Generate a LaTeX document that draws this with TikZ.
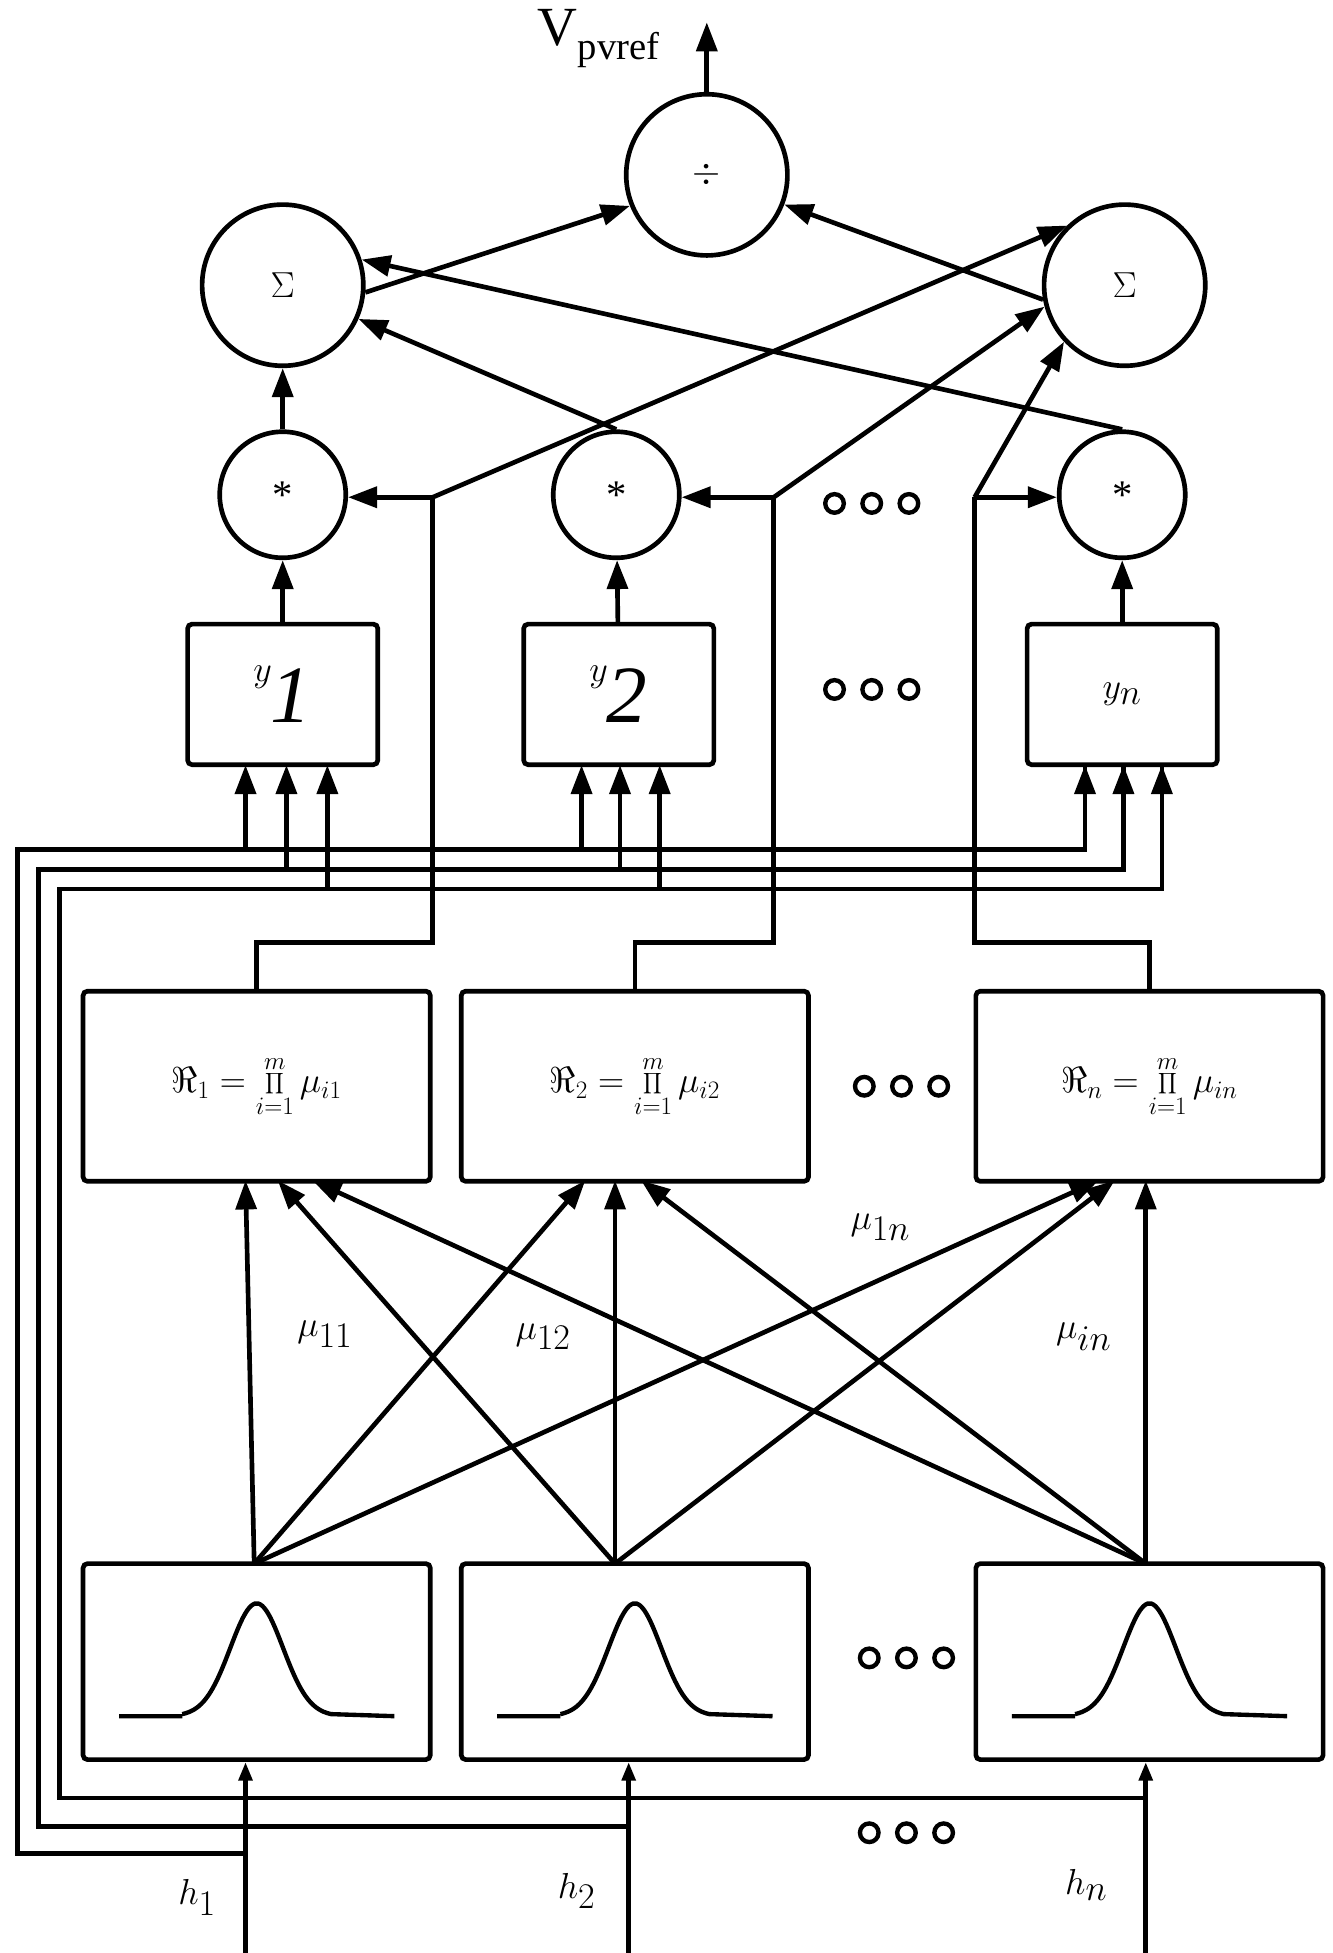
\documentclass[tikz,border=0pt]{standalone}
\usepackage{fontspec}
\setmainfont{Liberation Serif}
\usetikzlibrary{arrows.meta,calc}
\begin{document}
\begin{tikzpicture}[x=0.03cm,y=-0.03cm,line width=3.2pt,
  arr/.style={-{Triangle[length=0.7cm,width=0.5cm]}},
  sarr/.style={-{Triangle[length=0.45cm,width=0.32cm]}},
  bigc/.style={circle,draw,minimum size=3.9cm,inner sep=0pt,font=\fontsize{36}{40}\selectfont},
  smc/.style={circle,draw,minimum size=3.05cm,inner sep=0pt,font=\fontsize{28}{32}\selectfont},
  ybox/.style={draw,rounded corners=3pt,minimum width=4.6cm,minimum height=3.4cm,inner sep=0pt,font=\fontsize{80}{90}\selectfont},
  rbox/.style={draw,rounded corners=3pt,minimum width=8.4cm,minimum height=4.6cm,inner sep=0pt,font=\fontsize{26}{30}\selectfont},
  gbox/.style={draw,rounded corners=3pt,minimum width=8.4cm,minimum height=4.74cm,inner sep=0pt},
  lab/.style={font=\fontsize{64}{70}\selectfont},
  dot/.style={circle,draw,line width=3pt,minimum size=0.45cm,inner sep=0pt}]
\useasboundingbox (0,0) rectangle (1075,1575);
% nodes
\node[bigc] (div) at (570,141) {$\div$};
\node[bigc] (SL) at (228,230) {$\Sigma$};
\node[bigc] (SR) at (907,230) {$\Sigma$};
\node[smc] (m1) at (228,399) {*};
\node[smc] (m2) at (497,399) {*};
\node[smc] (mn) at (905,399) {*};
\node[ybox] (y1) at (228,560) {$y_{\mathit{1}}$};
\node[ybox] (y2) at (499,560) {$y_{\mathit{2}}$};
\node[ybox] (yn) at (905,560) {$y_{n}$};
\node[rbox] (R1) at (207,876) {$\displaystyle \Re_1=\prod_{i=1}^{m}\mu_{i1}$};
\node[rbox] (R2) at (512,876) {$\displaystyle \Re_2=\prod_{i=1}^{m}\mu_{i2}$};
\node[rbox] (Rn) at (927,876) {$\displaystyle \Re_n=\prod_{i=1}^{m}\mu_{in}$};
\node[gbox] (G1) at (207,1340) {};
\node[gbox] (G2) at (512,1340) {};
\node[gbox] (Gn) at (927,1340) {};
\foreach \gx in {207,512,927}{
  \begin{scope}[shift={(\gx,1340)}]
  \draw[line width=3pt] (-111,44) -- (-60,44)
    plot[smooth,domain=-60:60,samples=40] (\x,{44-91*exp(-(\x/30)^2)})
    -- (111,44);
  \end{scope}
}
\node[font=\fontsize{38}{42}\selectfont] (vp) at (483,31) {V\textsubscript{pvref}};
\coordinate (out) at (570,18);
\draw[arr] (div) -- (out);
% dots
\foreach \px/\py in {703/406,703/556,727/876,731/1337,731/1478}{
  \begin{scope}[shift={(\px,\py)}]
  \node[dot] (dA) at (-30,0) {}; \node[dot] (dB) at (0,0) {}; \node[dot] (dC) at (30,0) {};
  \end{scope}}
% sums & division
\draw[arr] (SL.-5) -- (div.202);
\draw[arr] (SR.190) -- (div.-21);
\draw[arr] (m1) -- (SL);
\draw[arr] (m2.north) -- (SL.-24);
\draw[arr] (mn.north) -- (SL.18);
\draw[arr] (y1) -- (m1);
\draw[arr] (y2) -- (m2);
\draw[arr] (yn) -- (mn);
% rule outputs
\coordinate (c1) at (349,401); \coordinate (c2) at (624,401); \coordinate (c3) at (786,401);
\draw (R1.north) |- (349,760) -- (c1);
\draw (R2.north) |- (624,760) -- (c2);
\draw (Rn.north) |- (786,760) -- (c3);
\draw[arr] (c1) -- (m1.east |- c1);
\draw[arr] (c2) -- (m2.east |- c2);
\draw[arr] (c3) -- (mn.west |- c3);
\draw[arr] (c1) -- (SR.134);
\draw[arr] (c2) -- (SR.195);
\draw[arr] (c3) -- (SR.223);
% inputs
\coordinate (h1) at (198,1575); \coordinate (h2) at (507,1575); \coordinate (hn) at (924,1575);
\draw[sarr] (h1) -- (h1 |- G1.south);
\draw[sarr] (h2) -- (h2 |- G2.south);
\draw[sarr] (hn) -- (hn |- Gn.south);
\draw (198,1495) -| (14,685) -| (875,617);
\draw (507,1473) -| (31,701) -| (906,617);
\draw (924,1450) -| (48,717) -| (937,617);
\foreach \x in {198,469,875}{\draw[arr] (\x,685) -- (\x,617);}
\foreach \x in {231,500,906}{\draw[arr] (\x,701) -- (\x,617);}
\foreach \x in {264,532,937}{\draw[arr] (\x,717) -- (\x,617);}
% G -> R
\coordinate (a1) at (205,1261); \coordinate (a2) at (496,1261); \coordinate (a3) at (924,1261);
\draw[arr] (a1) -- (198,952);
\draw[arr] (a1) -- (472,952);
\draw[arr] (a1) -- (886,952);
\draw[arr] (a2) -- (224,952);
\draw[arr] (a2) -- (496,952);
\draw[arr] (a2) -- (899,952);
\draw[arr] (a3) -- (252,952);
\draw[arr] (a3) -- (517,952);
\draw[arr] (a3) -- (924,952);
% labels
\node[lab] (l11) at (262,1076) {$\mu_{11}$};
\node[lab] (l12) at (438,1078) {$\mu_{12}$};
\node[lab] (l1n) at (710,990) {$\mu_{1n}$};
\node[lab] (lin) at (874,1078) {$\mu_{in}$};
\node[lab] (th1) at (159,1530) {$h_1$};
\node[lab] (th2) at (465,1525) {$h_2$};
\node[lab] (thn) at (876,1520) {$h_n$};
\end{tikzpicture}
\end{document}
